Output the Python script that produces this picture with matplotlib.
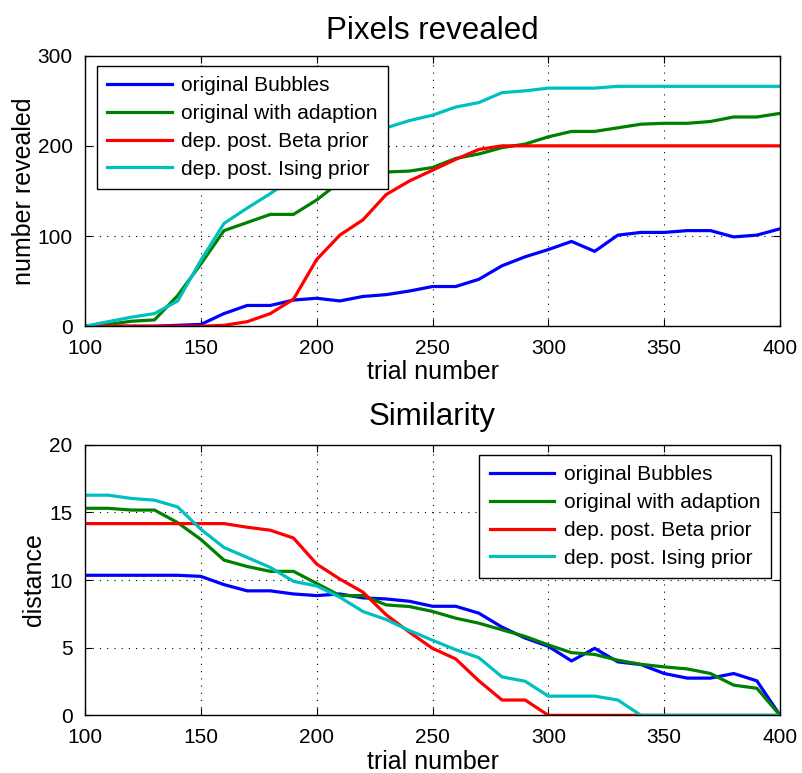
import matplotlib
matplotlib.use("Agg")
import matplotlib.pyplot as plt
import numpy as np

plt.rcParams['font.family'] = ['Liberation Sans', 'DejaVu Sans']

trials = list(range(100, 401, 10))

series_names = ["original Bubbles", "original with adaption",
                "dep. post. Beta prior", "dep. post. Ising prior"]
series_colors = ["#0000ff", "#008000", "#ff0000", "#00bfbf"]

# number of pixels revealed per trial
revealed_bubbles = [0, 0, 0, 0, 1, 2, 14, 23, 23, 29, 31, 28, 33, 35, 39, 44,
                    44, 52, 67, 77, 85, 94, 83, 101, 104, 104, 106, 106, 99, 101, 108]
revealed_adaption = [0, 2, 5.5, 7, 34, 69, 106, 115, 124, 124, 140, 160, 168, 171, 172, 176,
                     186, 191, 198, 202, 210, 216, 216, 220, 224, 225, 225, 227, 232, 232, 236]
revealed_beta = [0, 0, 0, 0, 0, 0, 1, 5, 14, 30, 74, 101, 118, 146, 161, 173,
                 185, 196, 200, 200, 200, 200, 200, 200, 200, 200, 200, 200, 200, 200, 200]
revealed_ising = [0, 5, 10, 14, 28, 73, 114, 131, 147, 165, 180, 195, 208, 220, 228, 234,
                  243, 248, 259, 261, 264, 264, 264, 266, 266, 266, 266, 266, 266, 266, 266]

# distance to the target image per trial
dist_bubbles = [10.35, 10.35, 10.35, 10.35, 10.35, 10.27, 9.66, 9.2, 9.2, 8.97, 8.85, 8.97,
                8.68, 8.6, 8.43, 8.06, 8.06, 7.55, 6.52, 5.71, 5.1, 4.02, 4.95, 3.95,
                3.75, 3.09, 2.75, 2.75, 3.09, 2.55, 0]
dist_adaption = [15.3, 15.3, 15.17, 15.17, 14.24, 13.0, 11.47, 11.0, 10.64, 10.64, 9.75, 8.85,
                 8.85, 8.16, 8.04, 7.68, 7.18, 6.81, 6.32, 5.83, 5.2, 4.63, 4.5, 4.07,
                 3.77, 3.58, 3.43, 3.09, 2.23, 2.0, 0]
dist_beta = [14.17, 14.17, 14.17, 14.17, 14.17, 14.17, 14.17, 13.9, 13.68, 13.1, 11.18, 10.07,
             9.1, 7.43, 6.15, 4.95, 4.17, 2.55, 1.13, 1.13, 0, 0, 0, 0,
             0, 0, 0, 0, 0, 0, 0]
dist_ising = [16.27, 16.27, 16.03, 15.9, 15.4, 13.75, 12.4, 11.67, 10.93, 9.9, 9.56, 8.73,
              7.67, 7.08, 6.27, 5.55, 4.85, 4.26, 2.84, 2.52, 1.42, 1.42, 1.42, 1.13,
              0, 0, 0, 0, 0, 0, 0]

fig = plt.figure(figsize=(8.02, 7.73), dpi=100)
ax_top = fig.add_axes([0.106, 0.578, 0.8666, 0.350])
ax_bot = fig.add_axes([0.106, 0.0746, 0.8666, 0.3501])

legend_kw = dict(borderaxespad=0, fontsize=15, handlelength=3.1, handletextpad=0.45,
                 labelspacing=0.42, borderpad=0.5, fancybox=False, framealpha=1,
                 edgecolor='black')


def style_axes(ax, ylim, yticks):
    ax.set_xlim(100, 400)
    ax.set_ylim(*ylim)
    ax.set_xticks([100, 150, 200, 250, 300, 350, 400])
    ax.set_yticks(yticks)
    ax.tick_params(direction='in', top=True, right=True, length=5, width=0.8,
                   labelsize=15, pad=9)
    ax.grid(True, linestyle=(0, (1, 5.5)), color='black', linewidth=0.8)
    for sp in ax.spines.values():
        sp.set_linewidth(1.0)
    ax.set_xlabel("trial number", fontsize=18, labelpad=2)


top_data = [revealed_bubbles, revealed_adaption, revealed_beta, revealed_ising]
for name, color, vals in zip(series_names, series_colors, top_data):
    ax_top.plot(trials, vals, color=color, linewidth=2.3, label=name)
style_axes(ax_top, (0, 300), [0, 100, 200, 300])
ax_top.set_ylabel("number revealed", fontsize=18, labelpad=1)
ax_top.set_title("Pixels revealed", fontsize=22.5, pad=12)
leg = ax_top.legend(loc='upper left', bbox_to_anchor=(0.0168, 0.962), **legend_kw)
leg.get_frame().set_linewidth(1.0)

bot_data = [dist_bubbles, dist_adaption, dist_beta, dist_ising]
for name, color, vals in zip(series_names, series_colors, bot_data):
    ax_bot.plot(trials, vals, color=color, linewidth=2.3, label=name)
style_axes(ax_bot, (0, 20), [0, 5, 10, 15, 20])
ax_bot.set_ylabel("distance", fontsize=18, labelpad=2.5)
ax_bot.set_title("Similarity", fontsize=22.5, pad=14)
leg2 = ax_bot.legend(loc='upper right', bbox_to_anchor=(0.9866, 0.962), **legend_kw)
leg2.get_frame().set_linewidth(1.0)

fig.savefig("out.png", dpi=100)
